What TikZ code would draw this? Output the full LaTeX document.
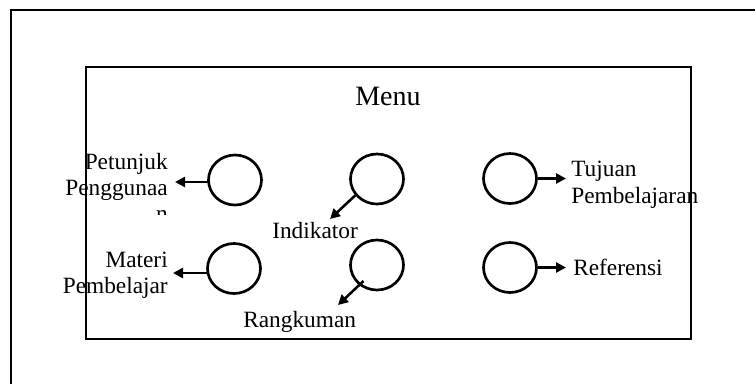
\documentclass[tikz,border=0pt]{standalone}
\usepackage{fontspec}
\setmainfont{Liberation Serif}
\usetikzlibrary{arrows.meta,calc,shapes.geometric}
\begin{document}
\begin{tikzpicture}[x=0.75pt,y=-0.75pt,
  btn/.style={draw,line width=2pt,ellipse,minimum width=39.75pt,minimum height=37.5pt,inner sep=0pt},
  lbl/.style={inner sep=0pt,font=\fontsize{17.5}{20}\selectfont},
  ttl/.style={inner sep=0pt,font=\fontsize{21}{24}\selectfont},
  arr/.style={line width=1.9pt,-{Triangle[length=7.5pt,width=7.5pt]}}]
\useasboundingbox (0,0) rectangle (755,383);
\draw[line width=1.9pt] (11,10) rectangle (790,420);
\draw[line width=1.2pt] (86,67) rectangle (691,339);
\node[ttl,anchor=base] (menu) at (388,105) {Menu};
% buttons
\node[btn] (tl) at (235,180) {};
\node[btn] (tm) at (377,179) {};
\node[btn] (tr) at (510,178.5) {};
\node[btn] (bl) at (234,268.5) {};
\node[btn] (bm) at (377,265) {};
\node[btn] (br) at (510,267.5) {};
% labels
\node[lbl,anchor=base east] (pet1) at (168,169) {Petunjuk};
\node[lbl,anchor=base east] (pet2) at (168,195) {Penggunaa};
\begin{scope}
\clip (100,205) rectangle (200,214.5);
\node[lbl,anchor=base east] (pet3) at (168,221) {n};
\end{scope}
\node[lbl,anchor=base east] (mat1) at (168,267) {Materi};
\node[lbl,anchor=base east] (mat2) at (168,293) {Pembelajar};
\node[lbl,anchor=base west] (tuj1) at (571,176) {Tujuan};
\node[lbl,anchor=base west] (tuj2) at (571,203) {Pembelajaran};
\node[lbl,anchor=base west] (ref) at (573,275) {Referensi};
\node[lbl,anchor=base west] (ind) at (272,238) {Indikator};
\node[lbl,anchor=base west] (rang) at (243,327) {Rangkuman};
% arrow ends
\coordinate (tls) at ($(tl.center)+(-27,2)$);
\coordinate (tle) at (175,182);
\coordinate (bls) at ($(bl.center)+(-27,4.5)$);
\coordinate (ble) at (173,273);
\coordinate (tme) at (330,219);
\coordinate (bms) at ($(bm.center)+(-13.5,16)$);
\coordinate (bme) at (338,305);
\coordinate (tre) at (566,178.5);
\coordinate (bre) at (566,267.5);
\draw[arr] (tls) -- (tle);
\draw[arr] (bls) -- (ble);
\draw[arr] (tm.217) -- (tme);
\draw[arr] (bms) -- (bme);
\draw[arr] (tr.east) -- (tre);
\draw[arr] (br.east) -- (bre);
\end{tikzpicture}
\end{document}
